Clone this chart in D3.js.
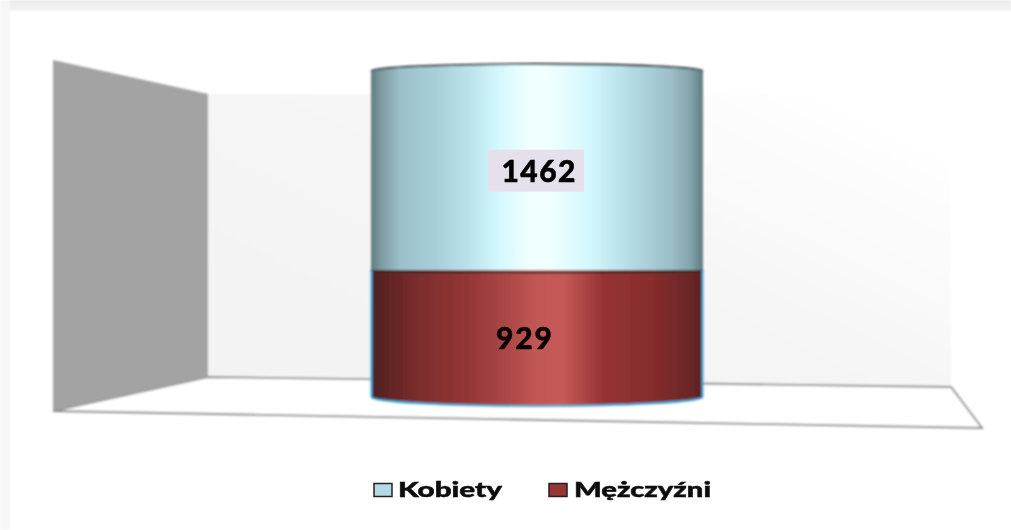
<!DOCTYPE html>
<html><head><meta charset="utf-8">
<script src="https://cdn.jsdelivr.net/npm/d3@7"></script>
<style>html,body{margin:0;padding:0;background:#fff;overflow:hidden}svg{display:block}</style>
</head><body><svg id="c" width="1011" height="530"></svg>
<script>
const categories = ["Płeć"];
const seriesNames = ["Mężczyźni", "Kobiety"];
const menValues = [929];
const womenValues = [1462];

const svg = d3.select("#c");
const W = 1011, H = 530;
const defs = svg.append("defs");
const blur = defs.append("filter").attr("id","soft").attr("filterUnits","userSpaceOnUse").attr("x",0).attr("y",0).attr("width",W).attr("height",H);
blur.append("feGaussianBlur").attr("stdDeviation",0.8);
const txtBlur = defs.append("filter").attr("id","softT").attr("filterUnits","userSpaceOnUse").attr("x",0).attr("y",0).attr("width",W).attr("height",H);
txtBlur.append("feGaussianBlur").attr("stdDeviation",0.65);

function grad(id, stops, attrs){
  const g = defs.append("linearGradient").attr("id",id);
  Object.entries(attrs||{}).forEach(([k,v])=>g.attr(k,v));
  stops.forEach(([o,c])=>g.append("stop").attr("offset",o).attr("stop-color",c));
}
grad("gLight",[[0,"#5f7b82"],[.03,"#7d9aa1"],[.09,"#9cc0c9"],[.2,"#a8cfd9"],[.3,"#bce3ec"],[.38,"#d2f8fd"],[.48,"#f0ffff"],[.54,"#f0ffff"],[.66,"#d2f8fd"],[.78,"#b5dbe4"],[.9,"#9cbfc8"],[.96,"#86a5ac"],[1,"#5f7b82"]]);
grad("gDark",[[0,"#4a1f1f"],[.05,"#602424"],[.14,"#7c2d2d"],[.3,"#953737"],[.42,"#ad4a48"],[.5,"#c25855"],[.58,"#c45a57"],[.7,"#963333"],[.85,"#852d2d"],[.95,"#6e2727"],[1,"#5a2222"]]);
grad("gWall",[[0,"#f3f3f3"],[.45,"#f5f5f5"],[.72,"#fafafa"],[1,"#ffffff"]],{x1:"0%",y1:"70%",x2:"85%",y2:"0%"});
grad("gTop",[[0,"#ebebeb"],[1,"#f3f3f3"]],{x1:"0%",y1:"0%",x2:"0%",y2:"100%"});

// page frame
const page = svg.append("g").attr("filter","url(#soft)");
page.append("rect").attr("width",W).attr("height",11).attr("fill","url(#gTop)");
page.append("rect").attr("width",10).attr("height",H).attr("fill","#f7f7f7");
page.append("rect").attr("x",11).attr("y",12).attr("width",W).attr("height",H).attr("fill","#fff");

// 3D plot frame
const frame = {wallL:53, wallR:208, backR:951, floorR:982, wallTop:60, backTop:94, backBottom:377, backBottomR:387, frontBottom:411, frontBottomR:428};
const scene = svg.append("g").attr("filter","url(#soft)");
const poly = pts => "M"+pts.map(p=>p.join(",")).join("L")+"Z";
scene.append("path").attr("d",poly([[frame.wallR,frame.backTop],[frame.backR,frame.backTop],[frame.backR,frame.backBottomR],[frame.wallR,frame.backBottom]])).attr("fill","url(#gWall)");
scene.append("path").attr("d",poly([[frame.wallL,frame.frontBottom],[frame.wallR,frame.backBottom],[frame.backR,frame.backBottomR],[frame.floorR,frame.frontBottomR]])).attr("fill","#fff").attr("stroke","#8c8c8c").attr("stroke-width",1.8);
scene.append("path").attr("d",poly([[frame.wallL,frame.wallTop],[frame.wallR,frame.backTop],[frame.wallR,frame.backBottom],[frame.wallL,frame.frontBottom]])).attr("fill","#a3a3a3");

// scales
const x = d3.scaleBand().domain(categories).range([371,703]).padding(0);
const y = d3.scaleLinear().domain([0, menValues[0]+womenValues[0]]).range([397,71]);
const rxOf = w => w/2;

// side walls with elliptical caps; sweep picks the cap's bulge direction
function cylinder(x0, w, yTop, yBot, ryTop, ryBot){
  const x1 = x0+w, r = rxOf(w);
  return `M${x0},${yTop}A${r},${ryTop} 0 0 1 ${x1},${yTop}L${x1},${yBot}A${r},${ryBot} 0 0 1 ${x0},${yBot}Z`;
}
const capTop = 7, capBottom = 9;

const bars = svg.append("g").attr("filter","url(#soft)");
const labels = svg.append("g").attr("filter","url(#softT)");
categories.forEach((c,i)=>{
  const x0 = x(c), w = x.bandwidth();
  const yBase = y(0), yMid = y(menValues[i]), yTop = y(menValues[i]+womenValues[i]);
  // men segment
  bars.append("path").attr("d",cylinder(x0+.5,w-1,yMid,yBase,2,capBottom))
    .attr("fill","url(#gDark)").attr("stroke","#3fa9dc").attr("stroke-width",2);
  // women segment
  bars.append("path").attr("d",`M${x0},${yTop}A${w/2},${capTop} 0 0 1 ${x0+w},${yTop}L${x0+w},${yMid}L${x0},${yMid}Z`)
    .attr("fill","url(#gLight)");
  bars.append("path").attr("d",`M${x0},${yTop}A${w/2},${capTop} 0 0 1 ${x0+w},${yTop}`)
    .attr("fill","none").attr("stroke","#1e2224").attr("stroke-width",1.8);
  bars.append("path").attr("d",`M${x0},${yMid}A${w/2},2 0 0 0 ${x0+w},${yMid}`)
    .attr("fill","none").attr("stroke","#120808").attr("stroke-width",1.6);
  // labels
  const cx = x0+w/2;
  labels.append("rect").attr("x",cx-49).attr("y",(yTop+yMid)/2-21).attr("width",96).attr("height",42).attr("fill","#e6e0ec");
  labels.append("text").attr("x",cx+1.5).attr("y",(yTop+yMid)/2+11.5).attr("text-anchor","middle")
    .attr("font-family","Lato").attr("font-weight",900).attr("font-size",30).attr("fill","#000").attr("stroke","#000").attr("stroke-width",.5)
    .attr("textLength",74).attr("lengthAdjust","spacing").text(womenValues[i]);
  labels.append("text").attr("x",cx-13).attr("y",(yMid+yBase)/2+15).attr("text-anchor","middle")
    .attr("font-family","Lato").attr("font-weight",900).attr("font-size",30).attr("fill","#100505").attr("stroke","#100505").attr("stroke-width",.5)
    .attr("textLength",56).attr("lengthAdjust","spacing").text(menValues[i]);
});

// legend
const legendItems = [
  {name:seriesNames[1], sx:374, tx:398, tw:104, fill:"#b3d9e6"},
  {name:seriesNames[0], sx:549, tx:574, tw:137, fill:"#953535"}
];
const leg = svg.append("g").attr("filter","url(#softT)");
legendItems.forEach(d=>{
  leg.append("rect").attr("x",d.sx).attr("y",483.5).attr("width",18).attr("height",13).attr("fill",d.fill).attr("stroke","#222").attr("stroke-width",1.5);
  leg.append("text").attr("x",d.tx).attr("y",497).attr("font-family","Lato").attr("font-weight",900).attr("font-size",21).attr("fill","#111").attr("stroke","#111").attr("stroke-width",.5)
    .attr("textLength",d.tw).attr("lengthAdjust","spacingAndGlyphs").text(d.name);
});
</script></body></html>
